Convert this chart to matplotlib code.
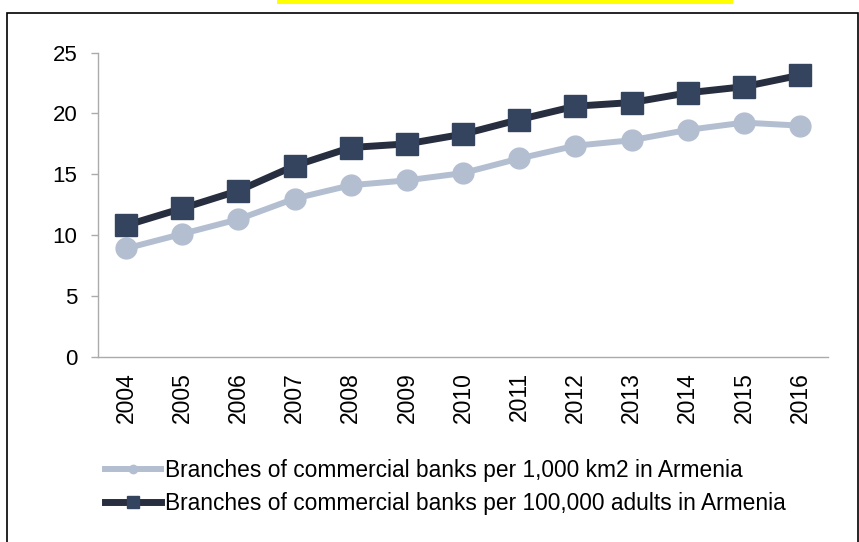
#!/usr/bin/env python3
import matplotlib
matplotlib.use("Agg")
import matplotlib.pyplot as plt
from matplotlib.lines import Line2D
from matplotlib.patches import Rectangle

plt.rcParams['font.family'] = ['Liberation Sans', 'DejaVu Sans']

years = ['2004', '2005', '2006', '2007', '2008', '2009', '2010',
         '2011', '2012', '2013', '2014', '2015', '2016']
per_area = [8.9, 10.1, 11.3, 13.0, 14.1, 14.5, 15.1,
            16.3, 17.35, 17.8, 18.65, 19.25, 19.0]
per_adults = [10.8, 12.2, 13.65, 15.7, 17.2, 17.5, 18.3,
              19.5, 20.6, 20.9, 21.7, 22.2, 23.15]
yticks = [0, 5, 10, 15, 20, 25]
label_area = 'Branches of commercial banks per 1,000 km2 in Armenia'
label_adults = 'Branches of commercial banks per 100,000 adults in Armenia'

light = '#b3bfd1'
dark_line = '#272e3f'
dark_marker = '#34445f'
axis_grey = '#ababab'

fig = plt.figure(figsize=(8.59, 5.42), dpi=100)
ax = fig.add_axes([0.1141, 0.3419, 0.85, 0.5609])

x = list(range(len(years)))
ax.plot(x, per_area, color=light, lw=4.3, marker='o', ms=15,
        markerfacecolor=light, markeredgecolor=light, zorder=3)
ax.plot(x, per_adults, color=dark_line, lw=5, marker='s', ms=16.5,
        markerfacecolor=dark_marker, markeredgecolor=dark_marker, zorder=4)

ax.set_xlim(-0.5, len(years) - 0.5)
ax.set_ylim(0, 25)
ax.set_yticks(yticks)
ax.set_xticks(x)
ax.set_xticklabels(years, rotation=90, fontsize=16.5)
ax.tick_params(axis='x', length=0, pad=11)
ax.tick_params(axis='y', length=5, width=1, color=axis_grey, pad=10, labelsize=16)

for side in ['top', 'right']:
    ax.spines[side].set_visible(False)
for side in ['left', 'bottom']:
    ax.spines[side].set_color(axis_grey)
    ax.spines[side].set_linewidth(1)

handles = [
    Line2D([], [], color=light, lw=4.3, marker='o', ms=6,
           markerfacecolor=light, markeredgecolor=light),
    Line2D([], [], color=dark_line, lw=5, marker='s', ms=9,
           markerfacecolor=dark_marker, markeredgecolor=dark_marker),
]
fig.legend(handles, [label_area, label_adults], loc='center left',
           bbox_to_anchor=(0.1222, 0.102), bbox_transform=fig.transFigure,
           frameon=False, fontsize=16.4, handlelength=2.45, handletextpad=0.2,
           labelspacing=0.45, borderpad=0, borderaxespad=0)

# outer frame and the yellow highlight strip at the top
fig.patches.append(Rectangle((6.7 / 859, -0.05), (857.5 - 6.7) / 859,
                             1.05 - 12.7 / 542, transform=fig.transFigure,
                             fill=False, edgecolor='black', lw=1.2))
fig.patches.append(Rectangle((277 / 859, 1 - 3.5 / 542), (733 - 277) / 859,
                             3.5 / 542, transform=fig.transFigure,
                             facecolor='#ffff00', edgecolor='none'))

fig.savefig('out.png', dpi=100)
